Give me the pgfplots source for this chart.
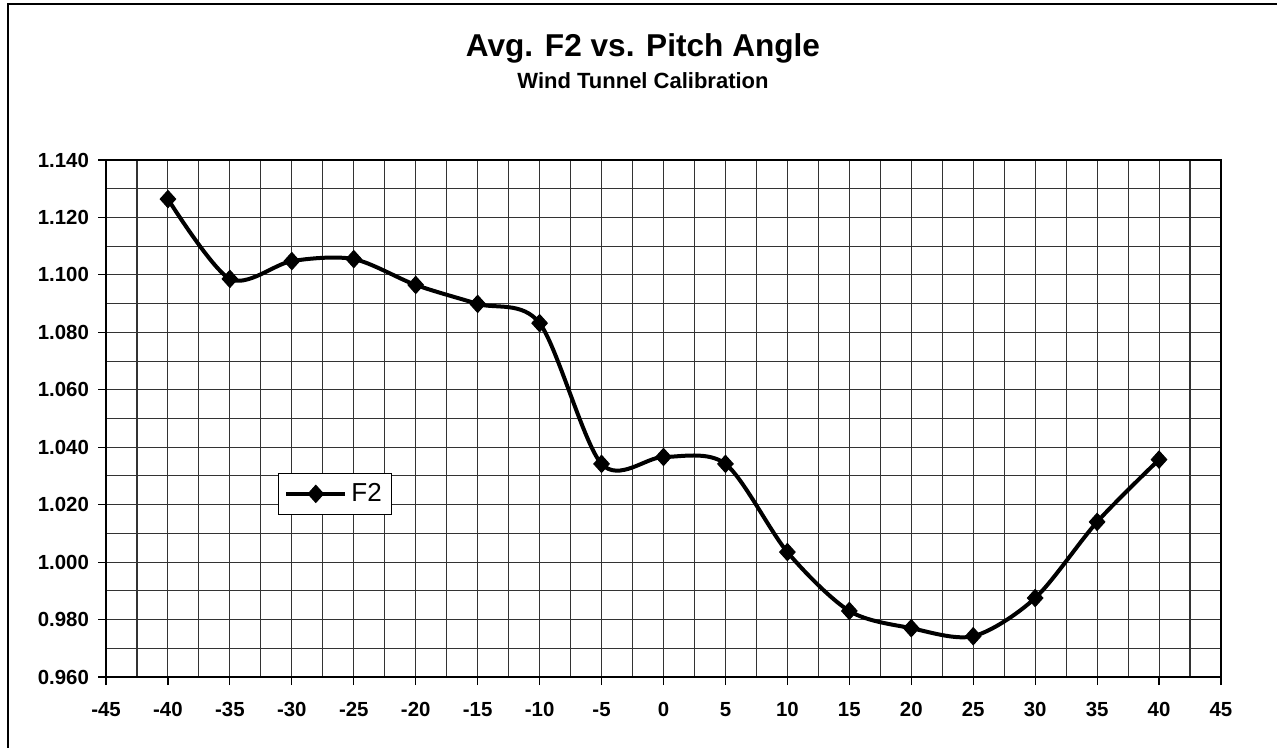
\documentclass[border=0pt]{standalone}
\usepackage{pgfplots}
\pgfplotsset{compat=1.18}
\usepackage{fontspec}
\setmainfont{Liberation Sans}
\begin{document}
\begin{tikzpicture}
\useasboundingbox (0,0) rectangle (638.5pt,-374pt);
\draw[line width=0.8pt] (4pt,-380pt) -- (4pt,-2pt) -- (645pt,-2pt);
\node[font=\bfseries\fontsize{15.8}{18}\selectfont] at (321.5pt,-24pt) {Avg. F2 vs. Pitch Angle};
\node[font=\bfseries\fontsize{11}{13}\selectfont] at (321.5pt,-40.5pt) {Wind Tunnel Calibration};
\begin{axis}[
  at={(53pt,-338.5pt)}, anchor=south west,
  scale only axis, width=557.5pt, height=258.5pt,
  xmin=-45, xmax=45, ymin=0.96, ymax=1.14,
  xtick={-45,-40,...,45},
  minor xtick={-42.5,-37.5,...,42.5},
  ytick={0.96,0.98,...,1.141},
  minor ytick={0.97,0.99,...,1.131},
  grid=both,
  major grid style={black!80, line width=0.55pt},
  minor grid style={black!80, line width=0.55pt},
  axis line style={black, line width=1.1pt},
  tick style={black, line width=0.6pt},
  major tick length=4pt, minor tick length=0pt,
  tick align=outside,
  xtick pos=bottom, ytick pos=left,
  ticklabel style={font=\bfseries\fontsize{10.2}{12}\selectfont},
  /pgf/number format/assume math mode=true,
  yticklabel style={/pgf/number format/fixed, /pgf/number format/fixed zerofill, /pgf/number format/precision=3, xshift=-1pt},
  xticklabel style={yshift=-5pt},
  scaled y ticks=false,
  legend style={at={(0.154,0.395)}, anchor=north west, draw=black, line width=0.5pt,
    font=\fontsize{13}{15}\selectfont, inner sep=3pt, row sep=0pt},
  legend cell align=left,
  legend image code/.code={\draw[mark repeat=2, mark phase=2] plot coordinates {(0cm,0cm) (0.52cm,0cm) (1.04cm,0cm)};},
]
\addplot[black, line width=2pt, smooth, tension=0.5, mark=diamond*, mark size=4.3pt,
  mark options={solid, xscale=1.2, line width=0.5pt}]
  coordinates {
  (-40,1.1264) (-35,1.0986) (-30,1.1048) (-25,1.1055) (-20,1.0965)
  (-15,1.0899) (-10,1.0832) (-5,1.0342) (0,1.0366) (5,1.0342)
  (10,1.0035) (15,0.9830) (20,0.9770) (25,0.9742) (30,0.9875)
  (35,1.0140) (40,1.0357)
  };
\addlegendentry{F2}
\end{axis}
\end{tikzpicture}
\end{document}
